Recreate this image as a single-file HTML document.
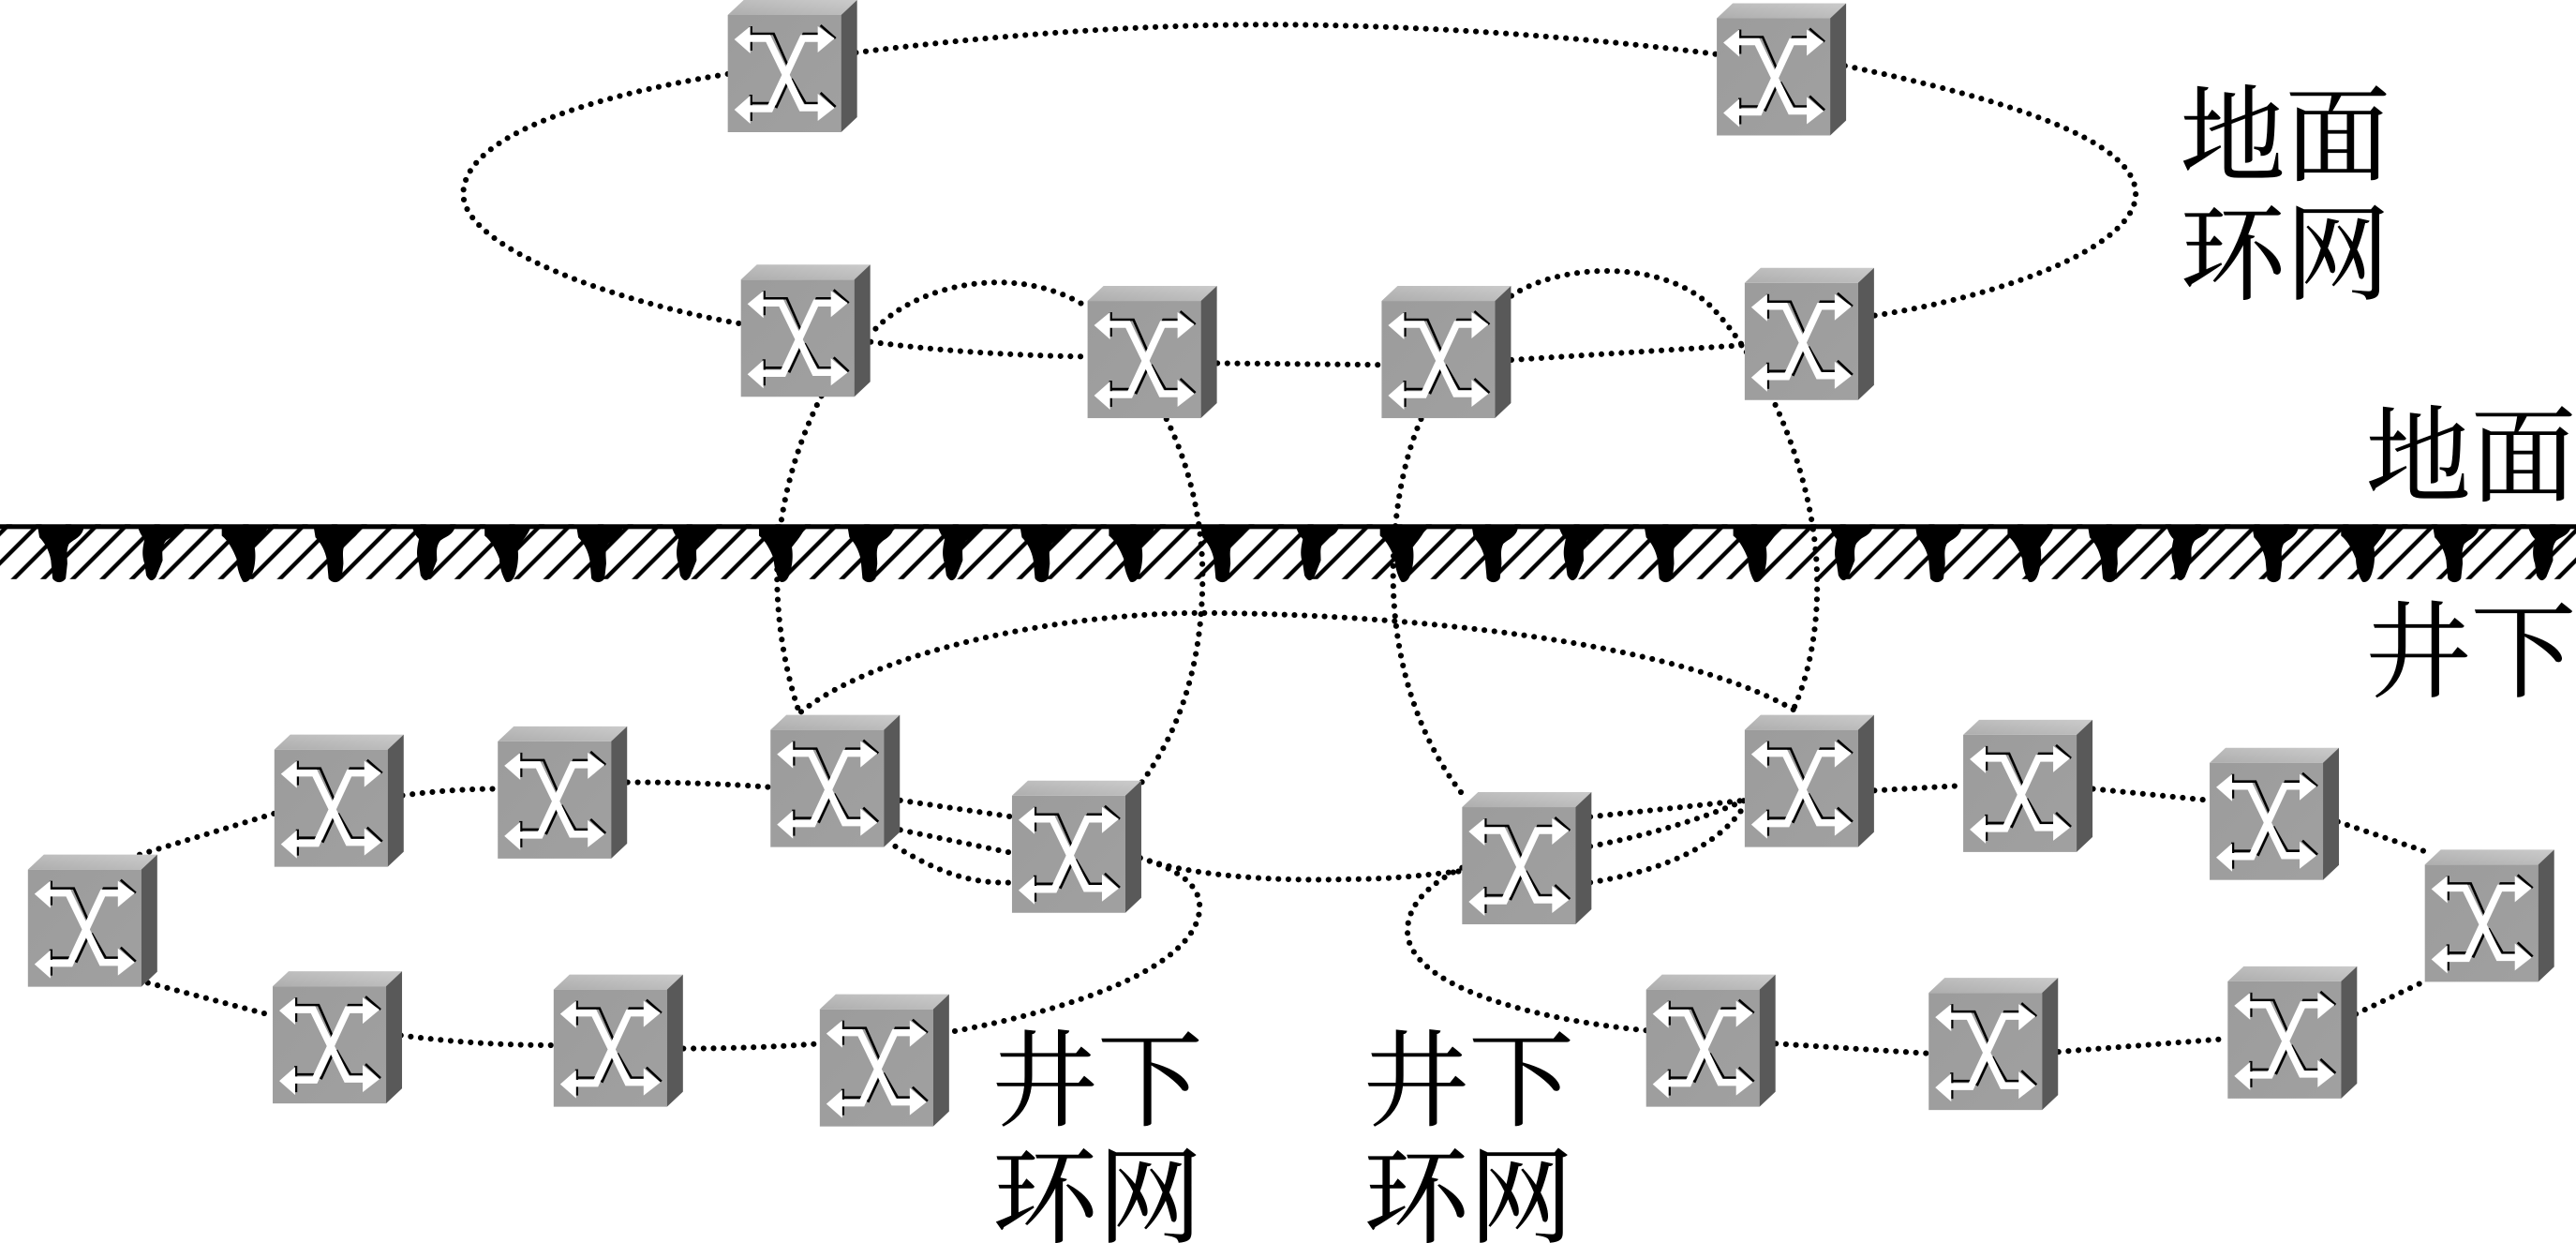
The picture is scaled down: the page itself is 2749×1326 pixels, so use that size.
<!DOCTYPE html>
<html><head><meta charset="utf-8"><title>地面环网 井下环网</title>
<style>html,body{margin:0;padding:0;background:#fff;width:2749px;height:1326px;overflow:hidden}svg{display:block}
text{font-family:"Liberation Serif","Noto Serif CJK SC",serif;font-size:64px;fill:#000;stroke:#000;stroke-width:.35}
.d{fill:none;stroke:#000;stroke-width:3.5;stroke-linecap:round;stroke-dasharray:0 6.1}</style></head>
<body>
<svg xmlns="http://www.w3.org/2000/svg" width="2749" height="1326" viewBox="0 0 1568 756.34" preserveAspectRatio="none">
<defs>
<pattern id="h" width="12.73" height="12.73" patternUnits="userSpaceOnUse" patternTransform="rotate(-45) translate(0,8)"><rect y="3.87" width="12.73" height="2.5" fill="#000"/></pattern>
<linearGradient id="f" x1="0" y1="0" x2="1" y2="1"><stop offset="0" stop-color="#9c9c9c"/><stop offset="1" stop-color="#a0a0a0"/></linearGradient>
<linearGradient id="t" x1="0" y1="1" x2="1" y2="0"><stop offset="0" stop-color="#aeaeae"/><stop offset="1" stop-color="#cbcbcb"/></linearGradient>
<g id="s" transform="scale(.5704)">
<rect x="0" y="16" width="121" height="125" fill="url(#f)"/>
<polygon points="0,16 17,0 138,0 121,16" fill="url(#t)"/>
<polygon points="121,16 138,0 138,125 121,141" fill="#595959"/>
<g fill="none" stroke="#000" stroke-width="2.6">
<path d="M25,36H49L64,70"/><path d="M68,70L81,36H98"/><path d="M25,110H44L52,114L66,84"/><path d="M68,84L83,110H98"/>
</g>
<g fill="#000"><rect x="23" y="28" width="3.2" height="26"/><rect x="23" y="101" width="3.2" height="28"/></g>
<path d="M99,27L115,41" stroke="#000" stroke-width="2.6"/><path d="M99,99L115,114" stroke="#000" stroke-width="2.6"/>
<g fill="none" stroke="#fff" stroke-width="7.5">
<path d="M22,41H43L79,115H98"/><path d="M22,116H45L80,41H98"/>
</g>
<g fill="#fff">
<polygon points="7,42 24,28 24,57"/><polygon points="7,117 24,102 24,132"/>
<polygon points="114,41 96,28 96,56"/><polygon points="114,115 96,100 96,129"/>
</g>
</g>
<path id="a" d="M-14,0H14C13,6 8,7 5,10C3,14 4,18 4,22L3,31C1,34 -3,34 -5,31L-6,20C-7,14 -10,9 -13,6Z"/>
<path id="b" d="M-11,0H15C13,5 10,5 6,8C3,12 4,16 4,20L0,30C-2,33 -4,33 -6,29L-7,22C-9,16 -8,12 -7,7C-9,5 -10,3 -11,0Z"/>
<path id="c" d="M-15,0H13C11,5 8,8 5,12C6,18 5,24 4,27C3,31 1,34 -2,33C-4,30 -6,24 -6,19C-8,14 -11,8 -15,5Z"/>
</defs>
<rect width="1568" height="757" fill="#fff"/>

<rect x="0" y="319" width="1568" height="33.4" fill="url(#h)"/>
<rect x="0" y="319" width="1568" height="2.9" fill="#000"/>
<g transform="translate(0,321)">
<use href="#a" x="37"/><use href="#b" x="95"/><use href="#c" x="150"/><use href="#a" x="205"/><use href="#b" x="262"/><use href="#c" x="310"/><use href="#a" x="365"/><use href="#b" x="420"/><use href="#c" x="477"/><use href="#a" x="530"/><use href="#b" x="582"/><use href="#a" x="635"/><use href="#c" x="690"/><use href="#a" x="745"/><use href="#b" x="800"/><use href="#c" x="855"/><use href="#a" x="910"/><use href="#b" x="960"/><use href="#a" x="1015"/><use href="#c" x="1070"/><use href="#b" x="1125"/><use href="#a" x="1180"/><use href="#c" x="1237"/><use href="#a" x="1285"/><use href="#b" x="1330"/><use href="#a" x="1385"/><use href="#c" x="1440"/><use href="#a" x="1495"/><use href="#b" x="1550"/>
</g>

<g class="d">
<path class="d" d="M443,45C350,60 282,85 282,118C282,150 370,183 451,197"/>
<path class="d" d="M521,32C600,22 690,15 770,15C860,15 960,22 1045,33"/>
<path class="d" d="M1123,40C1220,60 1300,85 1300,118C1300,150 1220,180 1141,192"/>
<path class="d" d="M530,208Q590,216 662,217"/>
<path class="d" d="M533,200C560,172 620,160 662,187"/>
<path class="d" d="M741,221L841,222"/>
<path class="d" d="M920,219L1062,210"/>
<path class="d" d="M920,180C950,160 1010,158 1040,185C1075,220 1105,290 1106,350C1107,385 1100,415 1090,435"/>
<path class="d" d="M500,241C480,280 473,320 473,350C473,385 480,415 487,435"/>
<path class="d" d="M710,255C725,285 732,320 732,350C732,410 715,450 692,480"/>
<path class="d" d="M865,255C852,285 848,320 848,350C848,410 868,455 890,483"/>
<path class="d" d="M483,437C530,395 650,373 730,373C850,373 1020,390 1092,432"/>
<path class="d" d="M85,520L167,495"/>
<path class="d" d="M245,484Q275,480 303,480"/>
<path class="d" d="M382,476Q430,476 469,479"/>
<path class="d" d="M548,487L616,497"/>
<path class="d" d="M548,505L616,519"/>
<path class="d" d="M545,515C570,530 590,538 616,537"/>
<path class="d" d="M694,522C720,530 732,540 730,555C725,590 650,615 578,628"/>
<path class="d" d="M694,522C730,535 790,536 820,535C850,535 870,532 890,530"/>
<path class="d" d="M90,598L166,618"/>
<path class="d" d="M244,630Q290,636 337,636"/>
<path class="d" d="M416,638Q460,638 499,635"/>
<path class="d" d="M968,497L1062,487"/>
<path class="d" d="M968,515Q1020,505 1062,487"/>
<path class="d" d="M968,537Q1040,525 1062,490"/>
<path class="d" d="M890,528C865,540 855,555 857,570C862,600 930,620 1002,627"/>
<path class="d" d="M1141,481L1195,478"/>
<path class="d" d="M1274,480L1345,487"/>
<path class="d" d="M1423,500L1476,518"/>
<path class="d" d="M1434,617L1476,597"/>
<path class="d" d="M1253,640L1356,632"/>
<path class="d" d="M1081,635L1174,641"/>
</g>

<use href="#s" x="443" y="0"/><use href="#s" x="1045" y="2"/><use href="#s" x="451" y="161"/><use href="#s" x="662" y="174"/><use href="#s" x="841" y="174"/><use href="#s" x="1062" y="163"/>
<use href="#s" x="167" y="447"/><use href="#s" x="303" y="442"/><use href="#s" x="469" y="435"/><use href="#s" x="616" y="475"/><use href="#s" x="890" y="482"/><use href="#s" x="1062" y="435"/><use href="#s" x="1195" y="438"/><use href="#s" x="1345" y="455"/><use href="#s" x="1476" y="517"/><use href="#s" x="17" y="520"/><use href="#s" x="166" y="591"/><use href="#s" x="337" y="593"/><use href="#s" x="499" y="605"/><use href="#s" x="1002" y="593"/><use href="#s" x="1174" y="595"/><use href="#s" x="1356" y="588"/>

<text x="1327" y="105">地面</text>
<text x="1327" y="177">环网</text>
<text x="1440" y="300">地面</text>
<text x="1440" y="419">井下</text>
<text x="604" y="680">井下</text>
<text x="604" y="751">环网</text>
<text x="830" y="680">井下</text>
<text x="830" y="751">环网</text>
</svg>
</body></html>
